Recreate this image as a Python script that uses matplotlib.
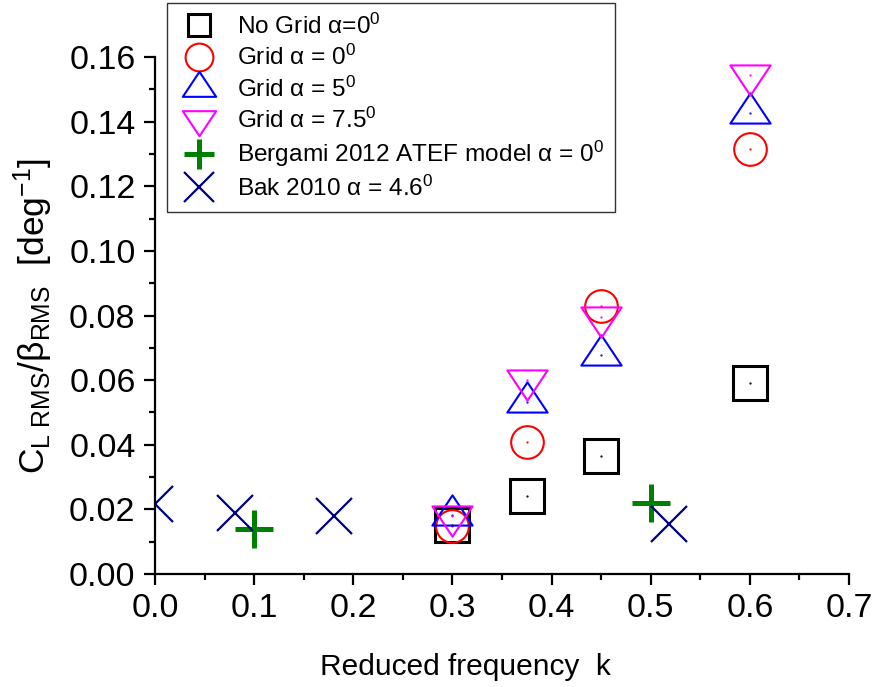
import matplotlib
matplotlib.use('Agg')
import matplotlib.pyplot as plt
from matplotlib.path import Path
from matplotlib.ticker import MultipleLocator

plt.rcParams['font.family'] = ['Liberation Sans', 'DejaVu Sans']
plt.rcParams['mathtext.fontset'] = 'custom'
plt.rcParams['mathtext.rm'] = 'Liberation Sans'
plt.rcParams['mathtext.it'] = 'Liberation Sans:italic'

# reduced frequency k and C_L,RMS / beta_RMS for each data set
k_nogrid = [0.3, 0.375, 0.45, 0.6]
c_nogrid = [0.0152, 0.0240, 0.0365, 0.0592]

k_grid0 = [0.3, 0.375, 0.45, 0.6]
c_grid0 = [0.0149, 0.0408, 0.0830, 0.1315]

k_grid5 = [0.3, 0.375, 0.45, 0.6]
c_grid5 = [0.0183, 0.0533, 0.0678, 0.1427]

k_grid75 = [0.3, 0.375, 0.45, 0.6]
c_grid75 = [0.0180, 0.0600, 0.0794, 0.1545]

k_bergami = [0.1, 0.5]
c_bergami = [0.0139, 0.0219]

k_bak = [0.0, 0.081, 0.181, 0.518]
c_bak = [0.0217, 0.0189, 0.0180, 0.0155]

labels = [r'No Grid α=0$\mathregular{^0}$',
          r'Grid α = 0$\mathregular{^0}$',
          r'Grid α = 5$\mathregular{^0}$',
          r'Grid α = 7.5$\mathregular{^0}$',
          r'Bergami 2012 ATEF model α = 0$\mathregular{^0}$',
          r'Bak 2010 α = 4.6$\mathregular{^0}$']

# wide, flat triangles centred on their centroid
tri_up = Path([(0, 20), (-20, -10), (20, -10), (0, 20)],
              [Path.MOVETO, Path.LINETO, Path.LINETO, Path.CLOSEPOLY])
tri_dn = Path([(0, -20), (-20, 10), (20, 10), (0, -20)],
              [Path.MOVETO, Path.LINETO, Path.LINETO, Path.CLOSEPOLY])

fig = plt.figure(figsize=(8.73, 6.87), dpi=100)
ax = fig.add_axes([0.1775, 0.1645, 0.795, 0.7525])

# marker, colour, size, edge width, size in legend
series = [
    (k_nogrid, c_nogrid, 's', 'black', 24.5, 2.2, 16.5),
    (k_grid0, c_grid0, 'o', 'red', 23.5, 1.5, 20),
    (k_grid5, c_grid5, tri_up, 'blue', 29, 1.5, 24),
    (k_grid75, c_grid75, tri_dn, 'magenta', 29, 1.5, 24),
    (k_bergami, c_bergami, '+', 'green', 28, 3.6, 22),
    (k_bak, c_bak, 'x', 'navy', 26, 1.6, 22),
]
for (k, c, m, col, ms, mew, _), lab in zip(series, labels):
    ax.plot(k, c, ls='none', marker=m, ms=ms, mew=mew, mec=col, mfc='none',
            label=lab, clip_on=True)
    if m not in ('+', 'x'):
        ax.plot(k, c, ls='none', marker='.', ms=1.2, color=col)

ax.set_xlim(0, 0.7)
ax.set_ylim(0, 0.16)
ax.xaxis.set_major_locator(MultipleLocator(0.1))
ax.xaxis.set_minor_locator(MultipleLocator(0.05))
ax.yaxis.set_major_locator(MultipleLocator(0.02))
ax.yaxis.set_minor_locator(MultipleLocator(0.01))
ax.set_xticklabels([f'{v:.1f}' for v in ax.get_xticks()])
ax.set_yticklabels([f'{v:.2f}' for v in ax.get_yticks()])

for side in ('top', 'right'):
    ax.spines[side].set_visible(False)
for side in ('left', 'bottom'):
    ax.spines[side].set_linewidth(1.6)
ax.tick_params(which='major', direction='out', length=8, width=1.6,
               labelsize=24.5, pad=6)
ax.tick_params(which='minor', direction='out', length=4.5, width=1.6)

ax.set_xlabel('Reduced frequency  k', fontsize=21.5)
ax.xaxis.set_label_coords(0.447, -0.152)
ax.set_ylabel(r'$\mathregular{C_{L\ RMS}/\beta_{RMS}\ \ [deg^{-1}]}$',
              fontsize=25.5, labelpad=10)

leg = ax.legend(loc='upper left', bbox_to_anchor=(0.191, 0.996),
                bbox_transform=fig.transFigure, borderaxespad=0,
                fontsize=17.6, frameon=True, fancybox=False,
                edgecolor='black', handlelength=1.7, handletextpad=0.72,
                labelspacing=0.25, borderpad=0.45)
leg.get_frame().set_linewidth(1.0)
for h, s in zip(leg.legend_handles, series):
    h.set_markersize(s[6])

fig.savefig('out.png', dpi=100)
